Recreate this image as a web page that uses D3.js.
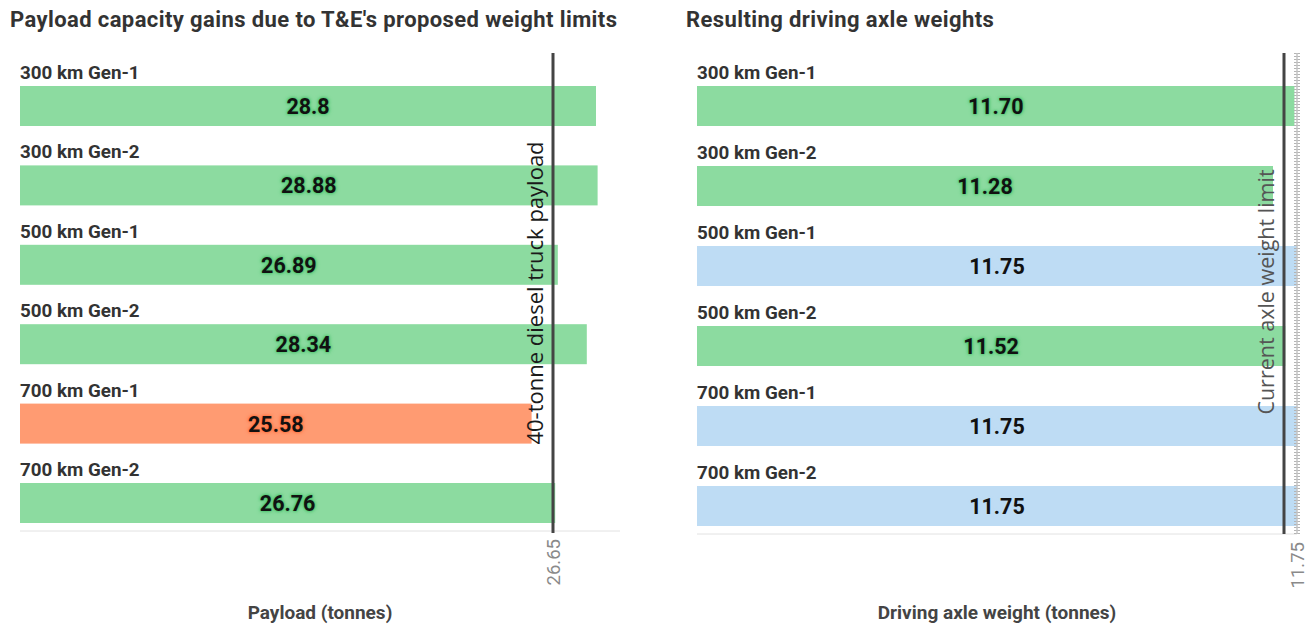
<!DOCTYPE html>
<html>
<head>
<meta charset="utf-8">
<script src="https://cdn.jsdelivr.net/npm/d3@7"></script>
<style>
  html, body { margin: 0; padding: 0; background: #fff; }
  svg { display: block; font-family: Roboto, "Noto Sans", sans-serif; }
</style>
</head>
<body>
<svg id="chart" width="1311" height="626"></svg>
<script>
// Categories shared by both panels
const categories = ["300 km Gen-1", "300 km Gen-2", "500 km Gen-1", "500 km Gen-2", "700 km Gen-1", "700 km Gen-2"];

// Payload (tonnes) and reference payload of a 40-tonne diesel truck
const payloadValues = [28.8, 28.88, 26.89, 28.34, 25.58, 26.76];
const payloadLabels = ["28.8", "28.88", "26.89", "28.34", "25.58", "26.76"];
const payloadReference = 26.65;
const payloadGroups = ["gain", "gain", "gain", "gain", "loss", "gain"];

// Driving axle weight (tonnes) and current axle weight limit
const axleValues = [11.70, 11.28, 11.75, 11.52, 11.75, 11.75];
const axleLabels = ["11.70", "11.28", "11.75", "11.52", "11.75", "11.75"];
const axleReference = 11.75;
const axleGroups = ["under", "under", "limit", "under", "limit", "limit"];

const palette = {
  gain:  { fill: "#8cdba0", glow: "#4cc46e" },
  loss:  { fill: "#ff9b72", glow: "#ff7240" },
  under: { fill: "#8cdba0", glow: "#4cc46e" },
  limit: { fill: "#bedcf4", glow: "#bedcf4" }
};

const svg = d3.select("#chart");

function panel(opts) {
  const g = svg.append("g");
  const x = d3.scaleLinear().domain(opts.domain).range([opts.left, opts.left + 600]);
  const y = d3.scaleBand().domain(categories).range([66, 66 + 6 * opts.step]);

  // title
  g.append("text")
    .attr("x", opts.titleX).attr("y", 27)
    .attr("font-size", 22).attr("font-weight", 700).attr("fill", "#333")
    .attr("letter-spacing", 0.4)
    .text(opts.title);

  const rows = g.selectAll("g.row").data(categories).join("g").attr("class", "row");

  rows.append("rect")
    .attr("x", x(0))
    .attr("y", d => y(d) + 20)
    .attr("height", 40)
    .attr("width", (d, i) => x(opts.values[i]) - x(0))
    .attr("fill", (d, i) => palette[opts.groups[i]].fill);

  rows.append("text")
    .attr("x", x(0))
    .attr("y", d => y(d) + 13)
    .attr("font-size", 18.8).attr("font-weight", 700).attr("fill", "#333")
    .text(d => d);

  rows.append("text")
    .attr("x", (d, i) => (x(0) + x(opts.values[i])) / 2)
    .attr("y", d => y(d) + 48)
    .attr("text-anchor", "middle")
    .attr("font-size", 21.5).attr("font-weight", 700).attr("fill", "#111")
    .style("text-shadow", (d, i) => `0 0 3px ${palette[opts.groups[i]].glow}, 0 0 2px ${palette[opts.groups[i]].glow}, 0 0 4px ${palette[opts.groups[i]].glow}`)
    .text((d, i) => opts.labels[i]);

  // baseline
  g.append("line")
    .attr("x1", x.range()[0]).attr("x2", x.range()[1])
    .attr("y1", opts.axisY).attr("y2", opts.axisY)
    .attr("stroke", "#e2e2e2").attr("stroke-width", 1);

  // reference tick label
  const tx = x(opts.reference);
  g.append("text")
    .attr("transform", `translate(${tx + 7},${opts.axisY + 8}) rotate(-90)`)
    .attr("text-anchor", "end")
    .attr("font-size", 18.5).attr("fill", "#8a8a8a")
    .text(opts.referenceTick);

  // axis title
  g.append("text")
    .attr("x", opts.left + 300).attr("y", 619)
    .attr("text-anchor", "middle")
    .attr("font-size", 19).attr("font-weight", 700).attr("fill", "#444")
    .text(opts.axisTitle);

  return { g, x, tx };
}

// Left panel: payload
const left = panel({
  left: 20, titleX: 10, step: 79.4, axisY: 531,
  domain: [0, 30], values: payloadValues, labels: payloadLabels, groups: payloadGroups,
  reference: payloadReference, referenceTick: "26.65",
  title: "Payload capacity gains due to T&E's proposed weight limits",
  axisTitle: "Payload (tonnes)"
});
left.g.append("line")
  .attr("x1", left.tx).attr("x2", left.tx).attr("y1", 53).attr("y2", 533)
  .attr("stroke", "#444").attr("stroke-width", 3);
left.g.append("text")
  .attr("transform", `translate(${left.tx - 10},293) rotate(-90)`)
  .attr("text-anchor", "middle")
  .attr("font-family", "'Open Sans', sans-serif")
  .attr("font-size", 22).attr("fill", "#1a1a1a")
  .text("40-tonne diesel truck payload");

// Right panel: driving axle weight
const right = panel({
  left: 697, titleX: 686, step: 80, axisY: 534,
  domain: [0, 11.75], values: axleValues, labels: axleLabels, groups: axleGroups,
  reference: axleReference, referenceTick: "11.75",
  title: "Resulting driving axle weights",
  axisTitle: "Driving axle weight (tonnes)"
});
// limit gridline at the axis end
right.g.append("line")
  .attr("x1", right.tx).attr("x2", right.tx).attr("y1", 53).attr("y2", 534)
  .attr("stroke", "#b4b4b4").attr("stroke-width", 6).attr("stroke-dasharray", "1,2");
right.g.append("line")
  .attr("x1", right.tx).attr("x2", right.tx).attr("y1", 53).attr("y2", 534)
  .attr("stroke", "#c4c4c4").attr("stroke-width", 1.5);
// annotation rule, drawn just inside the axis end
const ruleX = right.tx - 13;
right.g.append("line")
  .attr("x1", ruleX).attr("x2", ruleX).attr("y1", 53).attr("y2", 534)
  .attr("stroke", "#444").attr("stroke-width", 3);
right.g.append("text")
  .attr("transform", `translate(${ruleX - 10},292) rotate(-90)`)
  .attr("text-anchor", "middle")
  .attr("font-family", "'Open Sans', sans-serif")
  .attr("font-size", 21.5).attr("fill", "#555")
  .text("Current axle weight limit");
</script>
</body>
</html>
